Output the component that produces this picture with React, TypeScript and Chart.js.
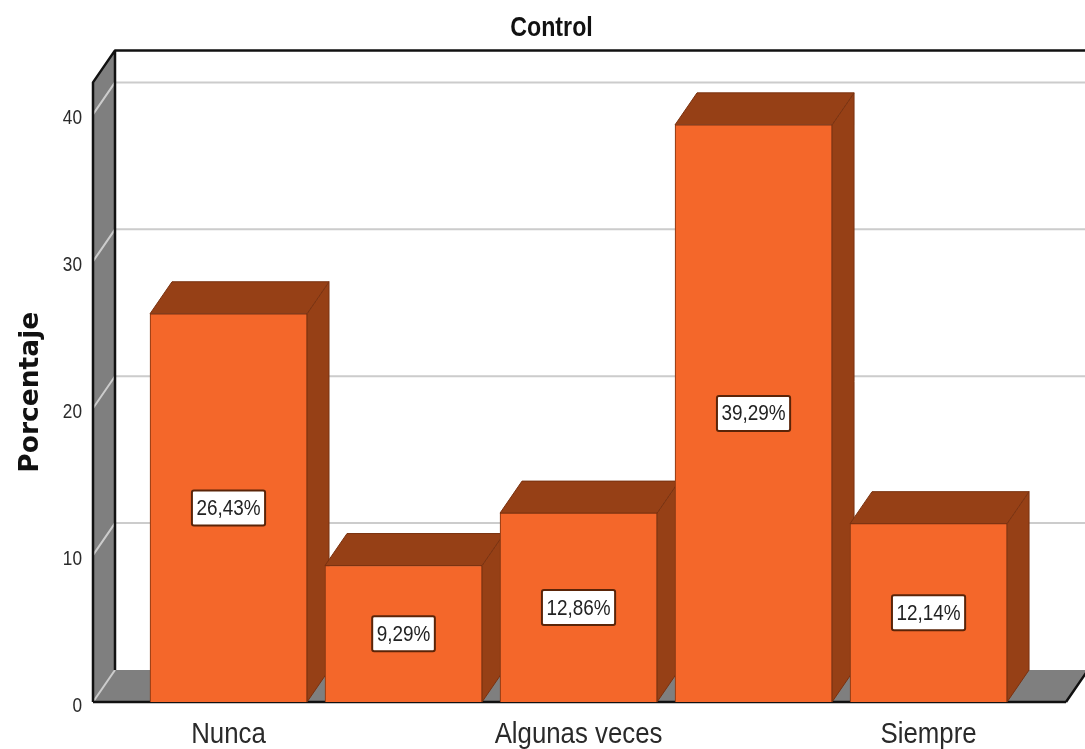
import React, { useEffect, useRef } from "react";
import { Chart, registerables } from "chart.js";

Chart.register(...registerables);

const categories = ["Nunca", "", "Algunas veces", "", "Siempre"];
const values = [26.43, 9.29, 12.86, 39.29, 12.14];
const valueLabels = ["26,43%", "9,29%", "12,86%", "39,29%", "12,14%"];
const yTicks = [0, 10, 20, 30, 40];

const DX = 22;
const DY = -32;
const FRONT_COLOR = "#F4672A";
const DARK_COLOR = "#964016";
const EDGE_COLOR = "#7A3210";
const WALL_COLOR = "#7F7F7F";
const GRID_COLOR = "#CCCCCC";
const SANS = '"Liberation Sans", sans-serif';
const CONDENSE = 0.86;

const frame3d = {
  id: "frame3d",
  beforeDatasetsDraw(chart: any) {
    const { ctx, chartArea } = chart;
    const y = chart.scales.y;
    const { left, right, top, bottom } = chartArea;
    const frontRight = right - 19;
    ctx.save();
    ctx.lineJoin = "round";

    // floor
    ctx.fillStyle = WALL_COLOR;
    ctx.beginPath();
    ctx.moveTo(left, bottom);
    ctx.lineTo(left + DX, bottom + DY);
    ctx.lineTo(frontRight + DX, bottom + DY);
    ctx.lineTo(frontRight, bottom);
    ctx.closePath();
    ctx.fill();

    // left wall
    ctx.beginPath();
    ctx.moveTo(left, top);
    ctx.lineTo(left + DX, top + DY);
    ctx.lineTo(left + DX, bottom + DY);
    ctx.lineTo(left, bottom);
    ctx.closePath();
    ctx.fill();

    // grid lines on both walls
    ctx.strokeStyle = GRID_COLOR;
    ctx.lineWidth = 2;
    yTicks.forEach((t) => {
      const py = y.getPixelForValue(t);
      ctx.beginPath();
      ctx.moveTo(left, py);
      ctx.lineTo(left + DX, py + DY);
      if (t !== 0) ctx.lineTo(right, py + DY);
      ctx.stroke();
    });

    // frame edges
    ctx.strokeStyle = "#111111";
    ctx.lineWidth = 2.5;
    ctx.beginPath();
    ctx.moveTo(left, bottom);
    ctx.lineTo(left, top);
    ctx.lineTo(left + DX, top + DY);
    ctx.lineTo(right, top + DY);
    ctx.moveTo(left + DX, top + DY);
    ctx.lineTo(left + DX, bottom + DY);
    ctx.moveTo(frontRight, bottom);
    ctx.lineTo(frontRight + DX, bottom + DY);
    ctx.moveTo(left, bottom);
    ctx.lineTo(frontRight, bottom);
    ctx.stroke();

    // bar sides and tops, left to right
    const bars = chart.getDatasetMeta(0).data;
    ctx.strokeStyle = EDGE_COLOR;
    ctx.lineWidth = 1;
    bars.forEach((b: any) => {
      const l = b.x - b.width / 2;
      const r = b.x + b.width / 2;
      const t = b.y;
      const base = b.base;
      ctx.fillStyle = DARK_COLOR;
      ctx.beginPath();
      ctx.moveTo(r, base);
      ctx.lineTo(r + DX, base + DY);
      ctx.lineTo(r + DX, t + DY);
      ctx.lineTo(r, t);
      ctx.closePath();
      ctx.fill();
      ctx.stroke();
      ctx.beginPath();
      ctx.moveTo(l, t);
      ctx.lineTo(l + DX, t + DY);
      ctx.lineTo(r + DX, t + DY);
      ctx.lineTo(r, t);
      ctx.closePath();
      ctx.fill();
      ctx.stroke();
    });
    ctx.restore();
  },
  afterDatasetsDraw(chart: any) {
    const { ctx } = chart;
    const bars = chart.getDatasetMeta(0).data;
    ctx.save();
    ctx.font = `22px ${SANS}`;
    ctx.textAlign = "center";
    ctx.textBaseline = "middle";
    bars.forEach((b: any, i: number) => {
      const text = valueLabels[i];
      const w = ctx.measureText(text).width * CONDENSE + 9;
      const h = 35;
      const cy = (b.y + b.base) / 2;
      ctx.beginPath();
      ctx.roundRect(b.x - w / 2, cy - h / 2, w, h, 2);
      ctx.fillStyle = "#FFFFFF";
      ctx.fill();
      ctx.lineWidth = 2;
      ctx.strokeStyle = "#5A2408";
      ctx.stroke();
      ctx.fillStyle = "#222222";
      ctx.fillText(text, b.x, cy + 1);
    });
    ctx.restore();
  },
};

export default function App() {
  const ref = useRef<HTMLCanvasElement>(null);
  useEffect(() => {
    const canvas = ref.current as HTMLCanvasElement;
    const c2d = canvas.getContext("2d") as any;
    // The reference's text is condensed and no narrow font is installed:
    // squeeze Liberation Sans horizontally, leave the axis title's wide face alone.
    const proto = CanvasRenderingContext2D.prototype.fillText;
    c2d.fillText = function (t: string, x: number, y: number) {
      if (String(c2d.font).includes("DejaVu")) return proto.call(c2d, t, x, y);
      return proto.call(c2d, t, x, y, c2d.measureText(t).width * CONDENSE);
    };
    const chart = new Chart(canvas, {
      type: "bar",
      data: {
        datasets: [
          {
            label: "Porcentaje",
            data: values.map((v, i) => ({ x: i, y: v })),
            backgroundColor: FRONT_COLOR,
            borderColor: EDGE_COLOR,
            borderWidth: 1,
            barThickness: 157,
          },
        ],
      },
      options: {
        responsive: false,
        animation: false,
        layout: { padding: { left: 18, right: 0, top: 0, bottom: 0 } },
        plugins: {
          legend: { display: false },
          tooltip: { enabled: false },
          title: {
            display: true,
            text: "Control",
            color: "#111111",
            font: { family: SANS, size: 27, weight: "bold", lineHeight: 1.2 },
            padding: { top: 12, bottom: 38 },
          },
        },
        scales: {
          x: {
            type: "linear",
            offset: false,
            min: -0.7743,
            max: 4.894,
            afterBuildTicks: (s: any) => {
              s.ticks = categories
                .map((c, i) => ({ value: i, label: c }))
                .filter((t) => t.label !== "")
                .map((t) => ({ value: t.value }));
            },
            afterFit: (s: any) => {
              s.height = 47;
            },
            grid: { display: false, drawTicks: false },
            border: { display: false },
            ticks: {
              autoSkip: false,
              maxRotation: 0,
              padding: 15,
              color: "#2A2A2A",
              font: { family: SANS, size: 30 },
              callback: (v: any) => categories[v as number],
            },
          },
          y: {
            min: 0,
            max: 42.18,
            afterFit: (s: any) => {
              s.width = 75;
            },
            grid: { display: false, drawTicks: false },
            border: { display: false },
            ticks: {
              stepSize: 10,
              includeBounds: false,
              padding: 11,
              labelOffset: 4,
              color: "#2A2A2A",
              font: { family: SANS, size: 20 },
            },
            title: {
              display: true,
              text: "Porcentaje",
              color: "#111111",
              font: { family: '"DejaVu Sans", sans-serif', size: 26.5, weight: "bold" },
              padding: { top: -3, bottom: 3 },
            },
          },
        },
      },
      plugins: [frame3d],
    } as any);
    return () => {
      chart.destroy();
      delete c2d.fillText;
    };
  }, []);
  return (
    <div style={{ position: "absolute", left: 0, top: 0, width: 1085, height: 749, background: "#fff" }}>
      <canvas ref={ref} width={1085} height={749} style={{ display: "block", filter: "blur(0.4px)" }} />
    </div>
  );
}
